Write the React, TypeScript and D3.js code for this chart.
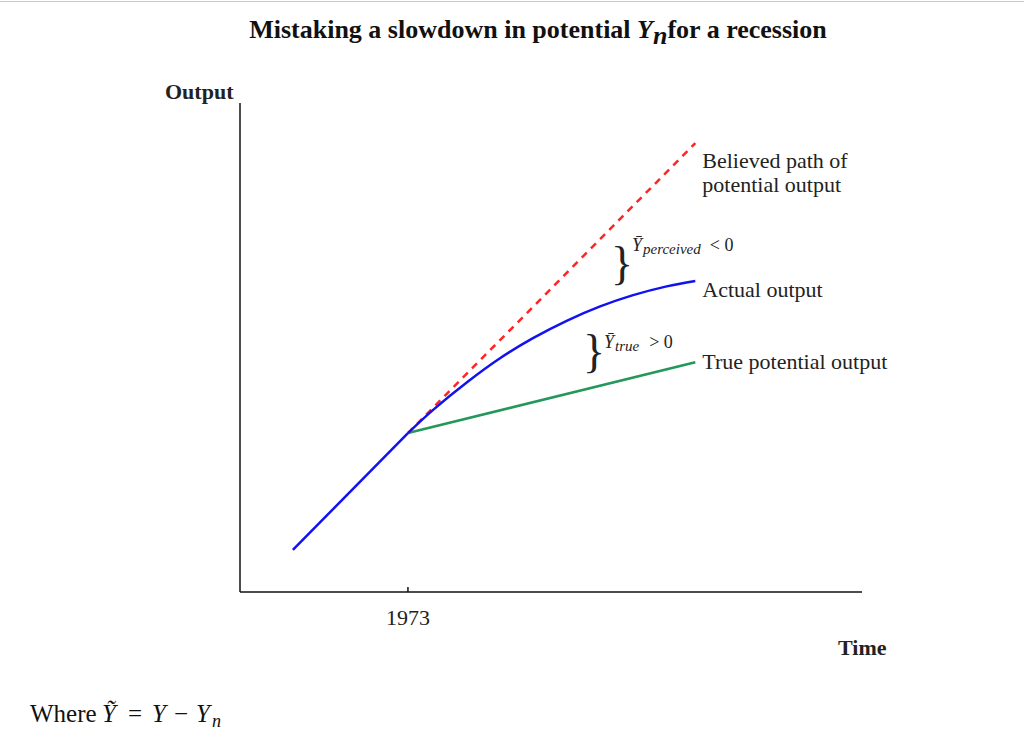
import React from "react";
import * as d3 from "d3";

// ---- data (abstract time / output units) ----
const preT = [8.5, 27];
const preY = [8.6, 32.5];
const believedT = [27, 73.2];
const believedY = [32.5, 91.8];
const actualT = [27, 31.0, 36.5, 41.8, 47.1, 52.6, 57.9, 63.2, 68.6, 73.2];
const actualY = [32.5, 37.2, 42.9, 47.8, 51.9, 55.5, 58.4, 60.7, 62.5, 63.6];
const trueT = [27, 73.2];
const trueY = [32.5, 47.0];
const tickT = [27];
const tickLabels = ["1973"];

const W = 1024;
const H = 735;
const serif = "'Liberation Serif', 'Times New Roman', serif";

const x = d3.scaleLinear().domain([0, 100]).range([240, 862]);
const y = d3.scaleLinear().domain([0, 100]).range([592, 103]);

const zip = (ts: number[], vs: number[]) => ts.map((t, i) => [t, vs[i]] as [number, number]);

const straight = d3
  .line<[number, number]>()
  .x((d) => x(d[0]))
  .y((d) => y(d[1]));
const smooth = d3
  .line<[number, number]>()
  .x((d) => x(d[0]))
  .y((d) => y(d[1]))
  .curve(d3.curveCatmullRom.alpha(0.5));

export default function App() {
  const blue = "#1212f0";
  const red = "#ff2424";
  const green = "#23985a";
  const labelX = x(73.2) + 7;
  return (
    <svg
      width={W}
      height={H}
      style={{ position: "absolute", left: 0, top: 0, background: "#fff" }}
      fontFamily={serif}
    >
      <line x1={0} x2={W} y1={1.5} y2={1.5} stroke="#c8c8c8" strokeWidth={1} />
      {/* title */}
      <text x={538} y={38} textAnchor="middle" fontSize={26} fontWeight="bold" fill="#111">
        Mistaking a slowdown in potential <tspan fontStyle="italic">Y</tspan>
        <tspan fontStyle="italic" dy={6}>n</tspan>
        <tspan dy={-6}>for a recession</tspan>
      </text>

      {/* axes */}
      <line x1={x(0)} x2={x(0)} y1={y(100)} y2={y(0)} stroke="#111" strokeWidth={1.5} />
      <line x1={x(0)} x2={x(100)} y1={y(0)} y2={y(0)} stroke="#111" strokeWidth={1.5} />
      {tickT.map((t, i) => (
        <g key={i}>
          <line x1={x(t)} x2={x(t)} y1={y(0) - 5} y2={y(0)} stroke="#111" strokeWidth={1.5} />
          <text x={x(t)} y={625} textAnchor="middle" fontSize={22} fill="#222">
            {tickLabels[i]}
          </text>
        </g>
      ))}
      <text x={165} y={99} fontSize={22} fontWeight="bold" fill="#222">Output</text>
      <text x={838} y={655} fontSize={22} fontWeight="bold" fill="#222">Time</text>

      {/* lines */}
      <path d={straight(zip(trueT, trueY)) || ""} fill="none" stroke={green} strokeWidth={2.5} />
      <path
        d={straight(zip(believedT, believedY)) || ""}
        fill="none"
        stroke={red}
        strokeWidth={2.5}
        strokeDasharray="7,6"
      />
      <path d={smooth(zip(actualT, actualY)) || ""} fill="none" stroke={blue} strokeWidth={2.5} />
      <path d={straight(zip(preT, preY)) || ""} fill="none" stroke={blue} strokeWidth={2.5} />

      {/* line labels */}
      <text x={labelX} y={168} fontSize={22} fill="#222">Believed path of</text>
      <text x={labelX} y={192} fontSize={22} fill="#222">potential output</text>
      <text x={labelX} y={297} fontSize={22} fill="#222">Actual output</text>
      <text x={labelX} y={369} fontSize={22} fill="#222">True potential output</text>

      {/* braces */}
      <text x={611} y={279} fontSize={46} fill="#222">{"}"}</text>
      <text x={583} y={367} fontSize={46} fill="#222">{"}"}</text>
      <text x={632} y={251} fontSize={18} fill="#222">
        <tspan fontStyle="italic">Ȳ</tspan>
        <tspan fontStyle="italic" fontSize={15} dy={3} dx={1}>perceived</tspan>
        <tspan dy={-3} dx={9}>&lt; 0</tspan>
      </text>
      <text x={604} y={348} fontSize={18} fill="#222">
        <tspan fontStyle="italic">Ȳ</tspan>
        <tspan fontStyle="italic" fontSize={15} dy={3} dx={1}>true</tspan>
        <tspan dy={-3} dx={10}>&gt; 0</tspan>
      </text>

      {/* footnote */}
      <text y={722} fontSize={25} fill="#111">
        <tspan x={30}>Where</tspan>
        <tspan x={102} fontStyle="italic">Ỹ</tspan>
        <tspan x={128}>=</tspan>
        <tspan x={152} fontStyle="italic">Y</tspan>
        <tspan x={174}>−</tspan>
        <tspan x={196} fontStyle="italic">Y</tspan>
        <tspan x={212} fontStyle="italic" fontSize={18} dy={5}>n</tspan>
      </text>
    </svg>
  );
}
